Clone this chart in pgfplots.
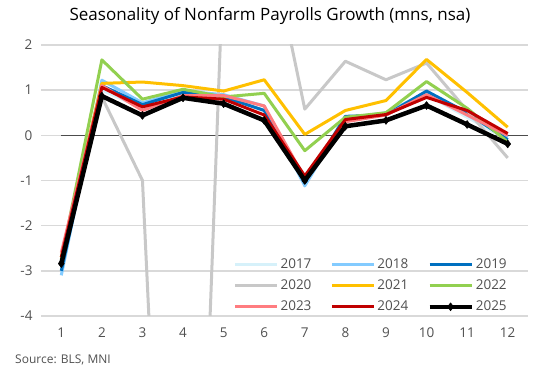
\documentclass[border=0pt]{standalone}
\usepackage{pgfplots}
\pgfplotsset{compat=1.18}
\usepackage{fontspec}
\setmainfont{Open Sans}
\definecolor{c17}{HTML}{D6F1FA}
\definecolor{c18}{HTML}{83CBFF}
\definecolor{c19}{HTML}{0070C0}
\definecolor{c20}{HTML}{C8C8C8}
\definecolor{c21}{HTML}{FFC000}
\definecolor{c22}{HTML}{92D050}
\definecolor{c23}{HTML}{FF7C80}
\definecolor{c24}{HTML}{C00000}
\definecolor{tickc}{HTML}{505050}
\definecolor{gridc}{HTML}{D9D9D9}
\begin{document}
\begin{tikzpicture}
\useasboundingbox (0,0) rectangle (543pt,371pt);
\begin{axis}[
  at={(41pt,55pt)}, anchor=south west,
  scale only axis, width=487pt, height=271pt,
  xmin=0.5, xmax=12.5, ymin=-4, ymax=2,
  xtick={1,...,12}, ytick={-4,...,2},
  axis line style={draw=none},
  major tick length=0pt,
  ymajorgrids, grid style={gridc, line width=1.5pt},
  tick label style={font=\fontsize{13.5}{15}\selectfont, text=tickc},
  /pgf/number format/assume math mode=true,
  yticklabel style={xshift=-5pt},
  xticklabel style={yshift=-8pt},
  legend columns=3,
  legend style={draw=none, fill=none, at={(0.395,0.22)}, anchor=north west,
    font=\fontsize{13.5}{15}\selectfont, text=tickc,
    /tikz/every even column/.append style={column sep=17pt},
    row sep=6pt, inner sep=0pt},
  legend cell align=left,
  legend image code/.code={\draw[mark repeat=2,mark phase=2,#1] plot coordinates {(0pt,0pt) (21pt,0pt) (42pt,0pt)};},
  every axis plot/.append style={line width=3pt, line join=round},
]
\addplot[black!70, line width=1.5pt, forget plot] coordinates {(1,0) (12.5,0)};
\addplot[c17] coordinates {(1,-2.9) (2,1.0) (3,0.6) (4,0.9) (5,0.85) (6,0.55) (7,-1.0) (8,0.35) (9,0.45) (10,0.9) (11,0.4) (12,-0.1)};
\addlegendentry{2017}
\addplot[c18] coordinates {(1,-3.1) (2,1.22) (3,0.72) (4,0.98) (5,0.9) (6,0.65) (7,-1.12) (8,0.38) (9,0.5) (10,0.95) (11,0.45) (12,-0.05)};
\addlegendentry{2018}
\addplot[c19] coordinates {(1,-3.0) (2,1.1) (3,0.68) (4,0.95) (5,0.85) (6,0.55) (7,-1.05) (8,0.42) (9,0.45) (10,0.98) (11,0.5) (12,-0.1)};
\addlegendentry{2019}
\addplot[c20] coordinates {(1,-2.8) (2,0.85) (3,-1.0) (4,-20) (5,4.0) (6,4.9) (7,0.58) (8,1.64) (9,1.23) (10,1.6) (11,0.55) (12,-0.5)};
\addlegendentry{2020}
\addplot[c21] coordinates {(1,-2.7) (2,1.15) (3,1.18) (4,1.1) (5,0.98) (6,1.23) (7,0.02) (8,0.55) (9,0.77) (10,1.68) (11,0.95) (12,0.18)};
\addlegendentry{2021}
\addplot[c22] coordinates {(1,-2.75) (2,1.67) (3,0.8) (4,1.02) (5,0.85) (6,0.93) (7,-0.34) (8,0.4) (9,0.5) (10,1.19) (11,0.6) (12,-0.15)};
\addlegendentry{2022}
\addplot[c23] coordinates {(1,-2.6) (2,1.1) (3,0.55) (4,0.88) (5,0.88) (6,0.65) (7,-0.95) (8,0.3) (9,0.45) (10,0.9) (11,0.45) (12,0.0)};
\addlegendentry{2023}
\addplot[c24] coordinates {(1,-2.7) (2,1.06) (3,0.63) (4,0.85) (5,0.8) (6,0.45) (7,-0.9) (8,0.35) (9,0.46) (10,0.84) (11,0.55) (12,0.04)};
\addlegendentry{2024}
\addplot[black, line width=4.5pt, mark=diamond*, mark size=4pt, mark options={line width=0.5pt}] coordinates {(1,-2.84) (2,0.87) (3,0.44) (4,0.83) (5,0.70) (6,0.33) (7,-1.0) (8,0.20) (9,0.33) (10,0.66) (11,0.24) (12,-0.19)};
\addlegendentry{2025}
\end{axis}
\node[font=\fontsize{17}{20}\selectfont, anchor=center] at (270pt,355pt) {Seasonality of Nonfarm Payrolls Growth (mns, nsa)};
\node[font=\fontsize{12}{14}\selectfont, text=tickc, anchor=west, inner sep=0pt] at (15pt,11pt) {Source: BLS, MNI};
\end{tikzpicture}
\end{document}
